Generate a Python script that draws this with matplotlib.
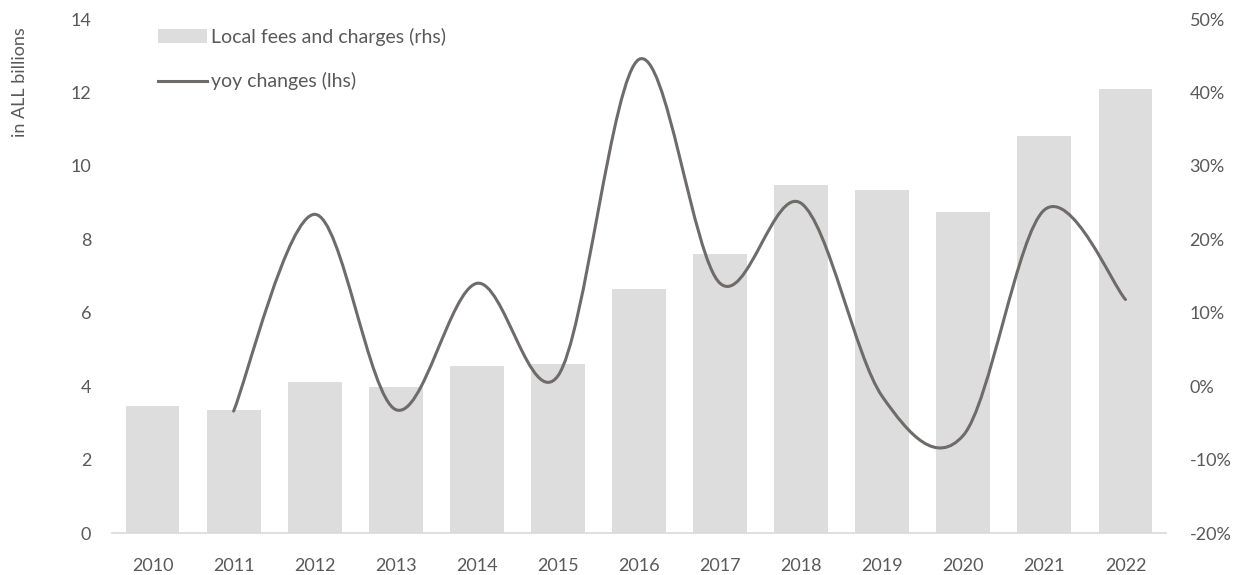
#!/usr/bin/env python
import matplotlib
matplotlib.use('Agg')
import matplotlib.pyplot as plt
import numpy as np
from matplotlib.lines import Line2D
from matplotlib.patches import PathPatch
from matplotlib.path import Path

years = ['2010', '2011', '2012', '2013', '2014', '2015', '2016',
         '2017', '2018', '2019', '2020', '2021', '2022']

# Local fees and charges, ALL billions
fees = [3.46, 3.34, 4.11, 3.98, 4.55, 4.60, 6.65,
        7.60, 9.49, 9.35, 8.73, 10.82, 12.09]

# yoy changes in %, starting in 2011
yoy_years = years[1:]
yoy = [-3.4, 23.4, -3.2, 14.0, 1.4, 44.5, 14.0,
       24.9, -1.4, -6.7, 24.0, 11.8]

BAR_COLOR = '#dddddd'
LINE_COLOR = '#6f6b6b'
TEXT_COLOR = '#595959'


def smooth_path(xs, ys):
    # Excel style smoothed line: cubic bezier through every point
    pts = np.column_stack([xs, ys]).astype(float)
    n = len(pts)
    verts = [pts[0]]
    codes = [Path.MOVETO]
    for i in range(n - 1):
        p0 = pts[max(i - 1, 0)]
        p1 = pts[i]
        p2 = pts[i + 1]
        p3 = pts[min(i + 2, n - 1)]
        verts += [p1 + (p2 - p0) / 6.0, p2 - (p3 - p1) / 6.0, p2]
        codes += [Path.CURVE4] * 3
    return Path(verts, codes)


def main():
    plt.rcParams['font.family'] = ['Lato', 'DejaVu Sans']

    fig = plt.figure(figsize=(12.45, 5.75), dpi=100)
    ax = fig.add_axes([112 / 1245, 42 / 575, 1054 / 1245, 514 / 575])
    ax2 = ax.twinx()

    x = np.arange(len(years))
    bars = ax.bar(x, fees, width=0.665, color=BAR_COLOR,
                  label='Local fees and charges (rhs)', zorder=2)

    # Smoothed yoy line on the right hand axis
    x_yoy = [years.index(y) for y in yoy_years]
    path = smooth_path(x_yoy, yoy)
    ax2.add_patch(PathPatch(path, facecolor='none', edgecolor=LINE_COLOR,
                            lw=2.2, capstyle='round', joinstyle='round'))

    ax.set_xlim(-0.5, len(years) - 0.5)
    ax.set_ylim(0, 14)
    ax.set_yticks(range(0, 15, 2))
    ax.set_xticks(x)
    ax.set_xticklabels(years)

    ax2.set_ylim(-20, 50)
    ax2.set_yticks(range(-20, 51, 10))
    ax2.set_yticklabels(['{}%'.format(v) for v in range(-20, 51, 10)])

    for a in (ax, ax2):
        for side in ('top', 'left', 'right'):
            a.spines[side].set_visible(False)
        a.spines['bottom'].set_color('#d9d9d9')
        a.spines['bottom'].set_linewidth(1.2)
        a.tick_params(length=0, labelsize=13, colors=TEXT_COLOR)
    ax2.spines['bottom'].set_visible(False)
    ax.tick_params(axis='y', pad=15)
    ax2.tick_params(axis='y', pad=17)
    ax.tick_params(axis='x', pad=18)

    fig.text(20 / 1245, 1 - 82 / 575, 'in ALL billions', rotation=90,
             ha='center', va='center', fontsize=13, color=TEXT_COLOR)

    line_handle = Line2D([], [], color=LINE_COLOR, lw=2.2)
    fig.legend([bars, line_handle],
               ['Local fees and charges (rhs)', 'yoy changes (lhs)'],
               loc='upper left', bbox_to_anchor=(158 / 1245, 1 - 28 / 575),
               frameon=False, fontsize=14, labelcolor=TEXT_COLOR,
               handlelength=2.5, handletextpad=0.25, labelspacing=1.35,
               borderaxespad=0, borderpad=0)

    fig.savefig('out.png', dpi=100)


if __name__ == '__main__':
    main()
